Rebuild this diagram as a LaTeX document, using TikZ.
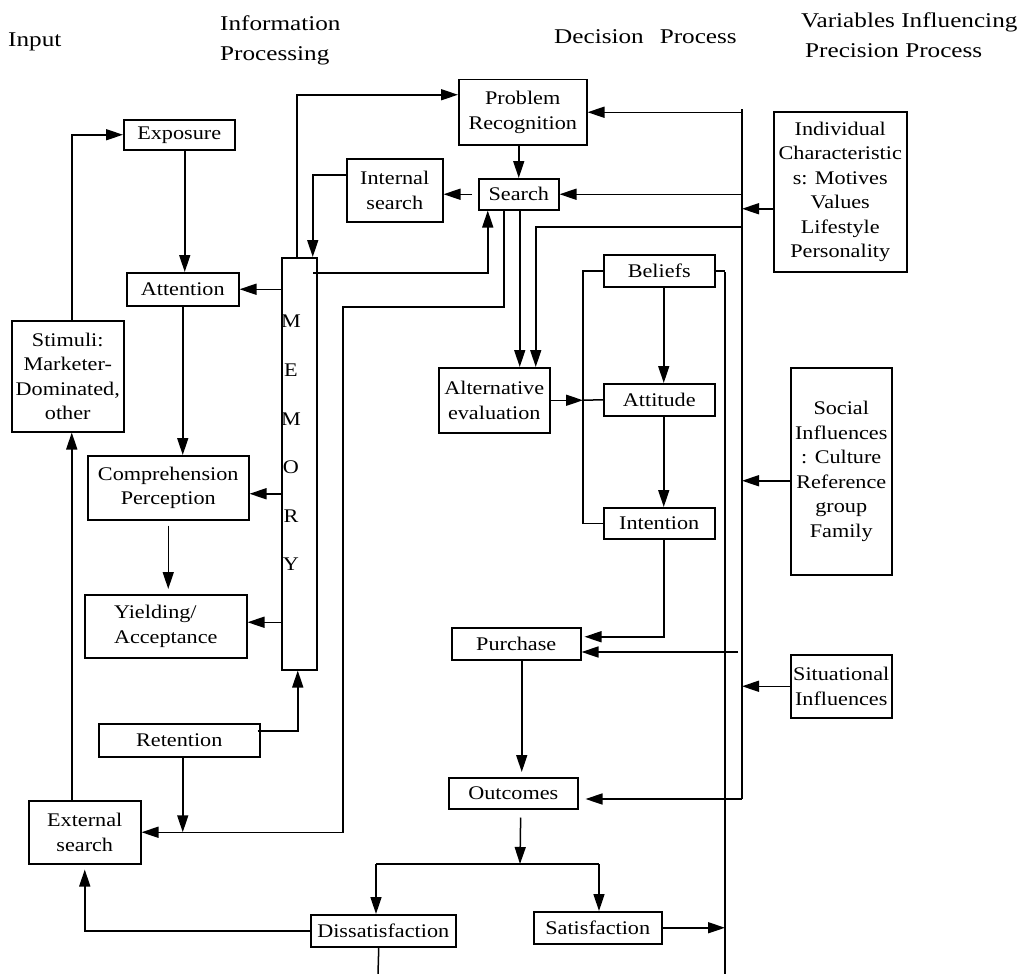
\documentclass[tikz,border=0pt]{standalone}
\usepackage{fontspec}
\newfontfamily\bodyf[FakeStretch=1.15]{Liberation Serif}
\newfontfamily\hdrf[FakeStretch=1.2]{Liberation Serif}
\usetikzlibrary{arrows.meta}
\newcommand\bx[6]{\node[nbox, minimum width={(#4-#2)*1pt}, minimum height={(#5-#3)*1pt}] (#1) at (#2,#3) {#6};}
\begin{document}
\begin{tikzpicture}[x=1pt,y=-1pt,
  nbox/.style={draw, line width=1.5pt, inner sep=0pt, anchor=north west, align=center, font=\bodyf\fontsize{19.3}{24.5}\selectfont},
  hdr/.style={inner sep=0pt, anchor=west, align=left, font=\hdrf\fontsize{21}{30}\selectfont},
  arr/.style={line width=1.5pt, -{Triangle[length=17pt,width=11pt]}},
  ln/.style={line width=1.5pt}]
\fill[white] (0,0) rectangle (1028,974);
\useasboundingbox (0,0) rectangle (1028,974);

% headers
\node[hdr] (hin) at (8,42) {Input};
\node[hdr] (hip) at (220,40) {Information\\Processing};
\node[hdr] (hdp) at (554,37) {Decision\hspace{16pt}Process};
\node[hdr] (hvi) at (801,35) {Variables Influencing\\\hspace*{4pt}Precision Process};

% boxes
\bx{expo}{123}{119}{234}{149}{Exposure}
\bx{atten}{126}{272}{238}{305}{Attention}
\bx{stim}{11}{320}{123}{431}{Stimuli:\\Marketer-\\Dominated,\\other}
\bx{comp}{87}{455}{248}{519}{Comprehension\\Perception}
\node[nbox, minimum width=162pt, minimum height=63pt, align=left] (yield) at (84,594) {Yielding/\\Acceptance};
\bx{mem}{281}{257}{316}{669}{}
\node[inner sep=0pt, align=center, font=\bodyf\fontsize{19.3}{48.6}\selectfont] (memtxt) at (291,443) {M\\E\\M\\O\\R\\Y};
\bx{ret}{98}{723}{259}{756}{Retention}
\bx{ext}{28}{800}{140}{863}{External\\search}
\bx{prob}{458}{79}{586}{144}{Problem\\Recognition}
\bx{ints}{346}{158}{442}{221}{Internal\\search}
\bx{search}{478}{178}{558}{209}{Search}
\bx{alt}{438}{367}{549}{432}{Alternative\\evaluation}
\bx{bel}{603}{254}{714}{286}{Beliefs}
\bx{att}{603}{383}{714}{415}{Attitude}
\bx{intn}{603}{507}{714}{538}{Intention}
\bx{purch}{451}{627}{580}{659}{Purchase}
\bx{outc}{448}{777}{577}{808}{Outcomes}
\bx{dis}{310}{914}{455}{946}{Dissatisfaction}
\bx{sat}{533}{911}{661}{943}{Satisfaction}
\bx{indc}{773}{111}{906}{271}{Individual\\Characteristic\\s: Motives\\Values\\Lifestyle\\Personality}
\bx{soc}{790}{367}{891}{574}{Social\\Influences\\: Culture\\Reference\\group\\Family}
\bx{sit}{790}{654}{891}{717}{Situational\\Influences}

% coordinates
\coordinate (bt) at (742,109);
\coordinate (bb) at (742,799);
\coordinate (b1) at (742,227);
\coordinate (r1) at (343,307);
\coordinate (m1) at (313,273);
\coordinate (vt) at (725,272);
\coordinate (vb) at (725,974);
\coordinate (lb) at (583,400);
\coordinate (pb) at (738,652);
\coordinate (sp) at (520,864);
\coordinate (spl) at (376,864);
\coordinate (spr) at (599,864);
\coordinate (dend) at (378,974);

% left column
\draw[arr] ([xshift=4pt]stim.north) |- (expo.west);
\draw[arr] ([xshift=5.5pt]expo.south) -- ([xshift=5.5pt]expo.south |- atten.north);
\draw[arr] (atten.south) -- (atten.south |- comp.north);
\draw[arr, shorten <=5pt, shorten >=5pt] (comp.south) -- (comp.south |- yield.north);
\draw[arr] (mem.west |- atten.east) -- (atten.east);
\draw[arr] ([yshift=-6pt]mem.west |- comp.east) -- ([yshift=-6pt]comp.east);
\draw[arr] ([yshift=4pt]mem.west |- yield.east) -- ([yshift=4pt]yield.east);
\draw[arr] ([xshift=-2.5pt]mem.north) |- ([yshift=17.5pt]prob.west);
\draw[arr] ([yshift=15.5pt]ints.west) -| ([xshift=13.5pt]mem.north);
\draw[arr] ([xshift=-6pt]search.west) -- (search.west -| ints.east);
\draw[arr] (search.north |- prob.south) -- (search.north);
\draw[arr] (m1) -| ([xshift=-31pt]search.south);
\draw[arr] ([xshift=-3pt,yshift=9.5pt]ret.east) -| ([xshift=-1.5pt]mem.south);
\draw[arr] ([xshift=3.5pt]ret.south) -- ([xshift=3.5pt]ret.south |- ext.east);
\draw[arr] ([xshift=-13pt]ext.north) -- ([xshift=-13pt]ext.north |- stim.south);
\draw[arr, shorten >=5pt] (dis.west) -| (ext.south);
\draw[arr] ([xshift=-15pt]search.south) |- (r1) |- (ext.east);

% bus and right side
\draw[ln] (bt) -- (bb);
\draw[arr] (prob.east -| bt) -- (prob.east);
\draw[arr] (search.east -| bt) -- (search.east);
\draw[arr] ([yshift=-17pt]indc.west) -- ([yshift=-17pt]indc.west -| bt);
\draw[arr] ([yshift=-9.5pt]soc.west) -- ([yshift=-9.5pt]soc.west -| bt);
\draw[arr] (sit.west) -- (sit.west -| bt);
\draw[arr] (b1) -| ([xshift=41.5pt]alt.north);
\draw[arr] ([xshift=1pt]search.south) -- ([xshift=1pt]search.south |- alt.north);
\draw[arr] (pb) -- (pb -| purch.east);
\draw[arr, shorten >=7pt] (bb) -- (bb -| outc.east);

% attitude block
\draw[ln] (bel.west) -- (bel.west -| lb) |- (intn.west);
\draw[arr] (alt.east) -- (alt.east -| lb);
\draw[ln] (alt.east -| lb) -- (att.west);
\draw[arr] ([xshift=4.5pt]bel.south) -- ([xshift=4.5pt]bel.south |- att.north);
\draw[arr] ([xshift=4.5pt]att.south) -- ([xshift=4.5pt]att.south |- intn.north);
\draw[arr, shorten >=3pt] ([xshift=4.5pt]intn.south) |- ([yshift=7pt]purch.east);
\draw[ln] (vt) -- (vb);
\draw[ln] ([xshift=-2pt]bel.east) -- (bel.east -| vt);

% lower decision flow
\draw[arr, shorten >=5pt] ([xshift=5.5pt]purch.south) -- ([xshift=5.5pt]purch.south |- outc.north);
\draw[arr, shorten <=8pt] ([xshift=7.5pt]outc.south) -- (sp);
\draw[ln] (spl) -- (spr);
\draw[arr] (spl) -- (spl |- dis.north);
\draw[arr] (spr) -- (spr |- sat.north);
\draw[arr] (sat.east) -- (sat.east -| vt);
\draw[ln] ([xshift=-4.5pt]dis.south) -- (dend);
\end{tikzpicture}
\end{document}
